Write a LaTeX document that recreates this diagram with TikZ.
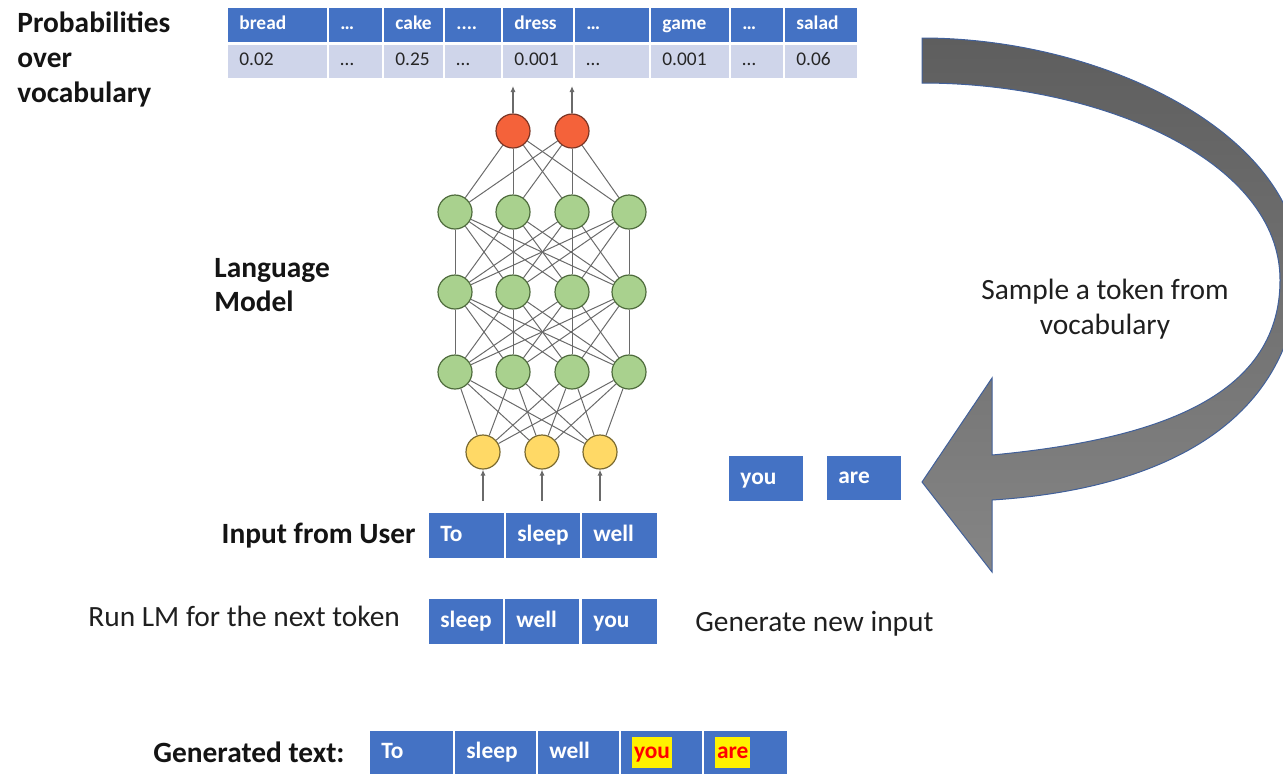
\documentclass[tikz,border=0pt]{standalone}
\usepackage{fontspec}
\setmainfont{Carlito}
\usetikzlibrary{arrows.meta}
\definecolor{hblue}{HTML}{4472C4}
\definecolor{vrow}{HTML}{CFD5EA}
\definecolor{txt}{HTML}{262626}
\definecolor{ngreen}{HTML}{A9D18E}
\definecolor{ngreenedge}{HTML}{4E6B3C}
\definecolor{nred}{HTML}{F4623A}
\definecolor{nrededge}{HTML}{7A3525}
\definecolor{nyellow}{HTML}{FFD966}
\definecolor{nyellowedge}{HTML}{7A6A30}
\definecolor{arrowdark}{HTML}{5E5E5E}
\definecolor{arrowlight}{HTML}{858585}
\definecolor{arrowedge}{HTML}{41609A}
\definecolor{netline}{HTML}{6A6A6A}

\newcommand\tcell[7]{%
  \pgfmathsetmacro\cw{(#3-#2)*0.5}%
  \pgfmathsetmacro\tw{\cw-11}%
  \pgfmathsetmacro\ch{(#5-#4)*0.5}%
  \node[#6, anchor=west, minimum height=\ch pt, text width=\tw pt, align=left,
        inner xsep=5.5pt, inner ysep=0pt] (#1) at (#2,{(#4+#5)/2}) {\strut #7};%
}
\newcommand\hilite[1]{{\setlength\fboxsep{0.8pt}\colorbox{yellow}{\textcolor{red}{\strut #1}}}}

\begin{document}
\begin{tikzpicture}[x=0.5pt,y=-0.5pt,
  hcell/.style={fill=hblue, text=white, font=\fontsize{9.7}{11}\selectfont\bfseries},
  vcell/.style={fill=vrow, text=txt, font=\fontsize{9.7}{11}\selectfont},
  tok/.style={fill=hblue, text=white, font=\fontsize{11.7}{14}\selectfont\bfseries},
  lbl/.style={text=black!88, inner sep=0pt, font=\fontsize{14.7}{17.5}\selectfont},
  blbl/.style={text=black!92, inner sep=0pt, font=\fontsize{14.7}{17.5}\selectfont\bfseries},
  neuron/.style={circle, minimum size=17pt, inner sep=0pt, line width=0.6pt},
  gn/.style={neuron, fill=ngreen, draw=ngreenedge},
  rn/.style={neuron, fill=nred, draw=nrededge},
  yn/.style={neuron, fill=nyellow, draw=nyellowedge},
  conn/.style={draw=netline, line width=0.5pt},
  io/.style={draw=netline, line width=0.7pt, -{Latex[length=3pt,width=2.6pt]}},
  bigarrow/.style={top color=arrowdark, bottom color=arrowlight, draw=arrowedge, line width=0.5pt}
]
\useasboundingbox (0,0) rectangle (1283,773);

% ---------- probability table ----------
\tcell{h1}{228}{327}{8}{42}{hcell}{bread}
\tcell{h2}{329}{382}{8}{42}{hcell}{…}
\tcell{h3}{384}{443}{8}{42}{hcell}{cake}
\tcell{h4}{445}{501}{8}{42}{hcell}{....}
\tcell{h5}{503}{573}{8}{42}{hcell}{dress}
\tcell{h6}{575}{649}{8}{42}{hcell}{…}
\tcell{h7}{651}{729}{8}{42}{hcell}{game}
\tcell{h8}{731}{783}{8}{42}{hcell}{…}
\tcell{h9}{785}{857}{8}{42}{hcell}{salad}
\tcell{v1}{228}{327}{45}{78}{vcell}{0.02}
\tcell{v2}{329}{382}{45}{78}{vcell}{…}
\tcell{v3}{384}{443}{45}{78}{vcell}{0.25}
\tcell{v4}{445}{501}{45}{78}{vcell}{…}
\tcell{v5}{503}{573}{45}{78}{vcell}{0.001}
\tcell{v6}{575}{649}{45}{78}{vcell}{…}
\tcell{v7}{651}{729}{45}{78}{vcell}{0.001}
\tcell{v8}{731}{783}{45}{78}{vcell}{…}
\tcell{v9}{785}{857}{45}{78}{vcell}{0.06}

% ---------- labels ----------
\node[blbl, anchor=base west] (pl1) at (17,32) {Probabilities};
\node[blbl, anchor=base west] (pl2) at (17,67) {over};
\node[blbl, anchor=base west] (pl3) at (17,102) {vocabulary};
\node[blbl, anchor=base west] (lm1) at (214,277) {Language};
\node[blbl, anchor=base west] (lm2) at (214,311) {Model};
\node[blbl, anchor=base east] (iu) at (416,543) {Input from User};
\node[lbl, anchor=base west] (run) at (88,626) {Run LM for the next token};
\node[lbl, anchor=base west] (gen) at (695,631) {Generate new input};
\node[lbl, anchor=base] (st1) at (1105,299) {Sample a token from};
\node[lbl, anchor=base] (st2) at (1105,334) {vocabulary};
\node[blbl, anchor=base west] (gtl) at (153,762) {Generated text:};

% ---------- neural network ----------
\node[rn] (r1) at (513,131) {};
\node[rn] (r2) at (572,131) {};
\foreach \j/\x in {1/455,2/513,3/572,4/629}{
  \node[gn] (a\j) at (\x,212) {};
  \node[gn] (b\j) at (\x,292) {};
  \node[gn] (c\j) at (\x,372) {};
}
\node[yn] (y1) at (483,452) {};
\node[yn] (y2) at (542,452) {};
\node[yn] (y3) at (600,452) {};

\foreach \i in {1,2}{\foreach \j in {1,...,4}{\path[conn] (r\i) -- (a\j);}}
\foreach \i in {1,...,4}{\foreach \j in {1,...,4}{
  \path[conn] (a\i) -- (b\j);
  \path[conn] (b\i) -- (c\j);}}
\foreach \i in {1,...,4}{\foreach \j in {1,2,3}{\path[conn] (c\i) -- (y\j);}}

\coordinate (o1) at (513,86);
\coordinate (o2) at (572,86);
\coordinate (i1) at (483,501);
\coordinate (i2) at (542,501);
\coordinate (i3) at (600,501);
\draw[io] (r1) -- (o1);
\draw[io] (r2) -- (o2);
\draw[io] (i1) -- (y1);
\draw[io] (i2) -- (y2);
\draw[io] (i3) -- (y3);

% ---------- token boxes ----------
\tcell{in1}{429}{504}{513}{558}{tok}{To}
\tcell{in2}{506}{580}{513}{558}{tok}{sleep}
\tcell{in3}{582}{657}{513}{558}{tok}{well}
\tcell{rn1}{429}{503}{599}{644}{tok}{sleep}
\tcell{rn2}{505}{579}{599}{644}{tok}{well}
\tcell{rn3}{582}{657}{599}{644}{tok}{you}
\tcell{sy}{729}{803}{456}{501}{tok}{you}
\tcell{sa}{827}{901}{456}{500}{tok}{are}
\tcell{gt1}{370}{453}{731}{774}{tok}{To}
\tcell{gt2}{455}{536}{731}{774}{tok}{sleep}
\tcell{gt3}{538}{619}{731}{774}{tok}{well}
\tcell{gt4}{621}{702}{731}{774}{tok}{\hilite{you}}
\tcell{gt5}{704}{787}{731}{774}{tok}{\hilite{are}}

% ---------- big curved arrow ----------
\begin{scope}
\clip (0,0) rectangle (1283,773);
\path[bigarrow] (922,38) .. controls (1100,38) and (1290,130) .. (1300,260)
  .. controls (1300,430) and (1150,490) .. (992,500)
  -- (992,572) -- (922,482) -- (992,378) -- (992,455)
  .. controls (1150,440) and (1280,400) .. (1280,280)
  .. controls (1280,160) and (1100,83) .. (922,83) -- cycle;
\end{scope}
\end{tikzpicture}
\end{document}
